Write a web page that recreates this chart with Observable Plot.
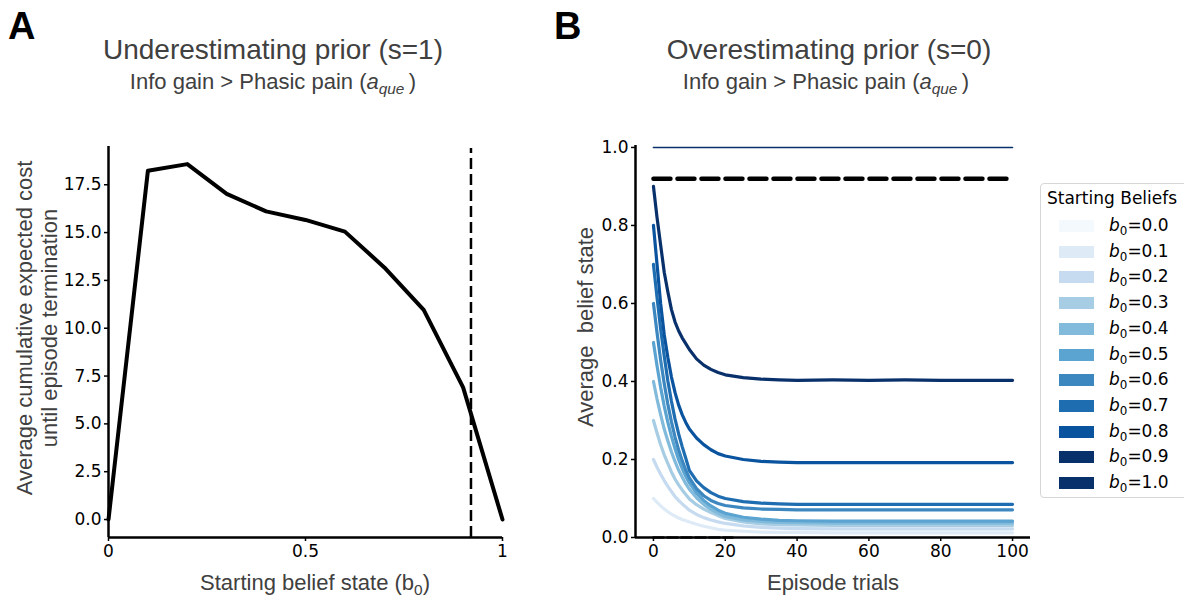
<!DOCTYPE html>
<html>
<head>
<meta charset="utf-8">
<script src="https://cdn.jsdelivr.net/npm/d3@7"></script>
<script src="https://cdn.jsdelivr.net/npm/@observablehq/plot@0.6"></script>
<style>
  html, body { margin: 0; padding: 0; background: #fff; }
  #fig { position: relative; width: 1184px; height: 598px; overflow: hidden; background: #fff; }
  .abs { position: absolute; white-space: nowrap; }
  .panel { font-family: "Liberation Sans", Arial, sans-serif; font-weight: bold; font-size: 38px; color: #000; }
  .ttl { font-family: "Liberation Sans", Arial, sans-serif; color: #404040; transform: translate(-50%, -50%); }
  .axt { font-family: "Liberation Sans", Arial, sans-serif; color: #404040; font-size: 22px; text-align: center; }
  .rot { transform: translate(-50%, -50%) rotate(-90deg); line-height: 1.12; }
  .hc { transform: translate(-50%, -50%); }
  .leg { font-family: "DejaVu Sans", sans-serif; font-size: 17px; color: #000; }
  sub.s { font-size: 0.7em; vertical-align: -0.35em; line-height: 0; }
</style>
</head>
<body>
<div id="fig"></div>
<script>
// ---------------- Panel A data ----------------
const startBeliefA = [0, 0.1, 0.2, 0.3, 0.4, 0.5, 0.6, 0.7, 0.8, 0.9, 1.0];
const costA = [0, 18.23, 18.58, 17.02, 16.11, 15.66, 15.05, 13.18, 10.96, 6.91, 0];
const thresholdA = [0.92];
const yTicksA = [0, 2.5, 5, 7.5, 10, 12.5, 15, 17.5];
const xTicksA = [0, 0.5, 1];
const xTickLabelsA = ["0", "0.5", "1"];

// ---------------- Panel B data ----------------
const trialsB = [0, 1, 2, 3, 4, 5, 6, 7, 8, 9, 10, 12, 14, 16, 18, 20, 25, 30, 35, 40, 50, 60, 70, 80, 90, 100];
const belief00 = [0,0,0,0,0,0,0,0,0,0,0,0,0,0,0,0,0,0,0,0,0,0,0,0,0,0];
const belief01 = [.100,.090,.081,.073,.066,.060,.055,.050,.046,.043,.040,.034,.029,.025,.021,.019,.016,.014,.013,.013,.012,.012,.012,.012,.012,.012];
const belief02 = [.200,.180,.162,.146,.131,.118,.105,.095,.086,.078,.070,.059,.051,.045,.040,.036,.030,.026,.024,.023,.022,.022,.022,.022,.022,.022];
const belief03 = [.300,.268,.238,.212,.190,.168,.150,.135,.122,.110,.099,.084,.073,.064,.056,.049,.040,.035,.033,.032,.031,.031,.031,.031,.031,.031];
const belief04 = [.400,.355,.315,.278,.248,.220,.195,.173,.155,.138,.124,.102,.085,.072,.062,.054,.045,.041,.039,.038,.037,.037,.037,.037,.037,.037];
const belief05 = [.500,.440,.385,.337,.296,.260,.228,.200,.177,.157,.140,.114,.095,.081,.070,.062,.052,.047,.044,.043,.042,.042,.042,.042,.042,.042];
const belief06 = [.600,.525,.455,.395,.342,.297,.258,.225,.197,.173,.153,.125,.107,.095,.087,.082,.076,.073,.072,.071,.071,.071,.071,.071,.071,.071];
const belief07 = [.700,.615,.535,.465,.402,.350,.304,.266,.233,.203,.172,.145,.128,.115,.106,.100,.092,.088,.086,.085,.085,.085,.085,.085,.085,.085];
const belief08 = [.800,.700,.600,.520,.462,.412,.372,.340,.315,.295,.278,.255,.238,.225,.215,.209,.200,.195,.193,.192,.192,.192,.192,.192,.192,.192];
const belief09 = [.900,.820,.750,.680,.630,.585,.553,.530,.512,.497,.482,.458,.442,.431,.423,.417,.410,.406,.404,.403,.404,.403,.404,.403,.403,.403];
const belief10 = [1,1,1,1,1,1,1,1,1,1,1,1,1,1,1,1,1,1,1,1,1,1,1,1,1,1];
const seriesB = [belief00, belief01, belief02, belief03, belief04, belief05, belief06, belief07, belief08, belief09, belief10];
const beliefLabels = ["0.0", "0.1", "0.2", "0.3", "0.4", "0.5", "0.6", "0.7", "0.8", "0.9", "1.0"];
const beliefColors = ["#f4f9fe", "#deebf7", "#c6dbef", "#a6cde3", "#81badb", "#5ba3d0", "#3c87c0", "#1f6db1", "#0a539e", "#08306b", "#08306b"];
const thresholdB = [0.92];
const thresholdBX = [0, 100];
const zeroRefX = [0, 22];
const yTicksB = [0, 0.2, 0.4, 0.6, 0.8, 1.0];
const xTicksB = [0, 20, 40, 60, 80, 100];

const fig = document.getElementById("fig");
function addDiv(cls, html, left, top, extraStyle) {
  const d = document.createElement("div");
  d.className = "abs " + cls;
  d.innerHTML = html;
  d.style.left = left + "px";
  d.style.top = top + "px";
  if (extraStyle) Object.assign(d.style, extraStyle);
  fig.appendChild(d);
  return d;
}

const svgStyle = { fontFamily: "DejaVu Sans, sans-serif", fontSize: "17px", color: "black", background: "transparent", overflow: "visible" };

// ---------------- Panel A ----------------
const rowsA = startBeliefA.map((b, i) => ({ b, cost: costA[i] }));
const yMinA = -0.94;
const plotA = Plot.plot({
  width: 560, height: 598,
  marginLeft: 108, marginRight: 58, marginTop: 146, marginBottom: 61,
  style: svgStyle,
  x: { domain: [0, 1] },
  y: { domain: [yMinA, 19.5] },
  marks: [
    Plot.line(rowsA, { x: "b", y: "cost", stroke: "black", strokeWidth: 4, strokeLinejoin: "round" }),
    Plot.ruleX(thresholdA, { stroke: "black", strokeWidth: 2.5, strokeDasharray: "11,5", y1: yMinA, y2: 19.4 }),
    Plot.axisY({ ticks: yTicksA, tickFormat: d => d.toFixed(1), tickSize: 4, tickPadding: 3, fontSize: 17, strokeWidth: 1.5, label: null }),
    Plot.axisX({ ticks: xTicksA, tickFormat: d => xTickLabelsA[xTicksA.indexOf(d)], tickSize: 4, tickPadding: 3, fontSize: 17, strokeWidth: 1.5, label: null }),
    Plot.ruleX([0], { stroke: "black", strokeWidth: 2.5 }),
    Plot.ruleY([yMinA], { stroke: "black", strokeWidth: 2.5 })
  ]
});
plotA.style.position = "absolute";
plotA.style.left = "0px";
plotA.style.top = "0px";
fig.appendChild(plotA);

// ---------------- Panel B ----------------
const marksB = [];
seriesB.forEach((vals, k) => {
  const rows = trialsB.map((t, i) => ({ trial: t, value: vals[i] }));
  marksB.push(Plot.line(rows, {
    x: "trial", y: "value", stroke: beliefColors[k],
    strokeWidth: beliefLabels[k] === "1.0" ? 1.6 : 3.2, strokeLinejoin: "round"
  }));
});
marksB.push(Plot.line(thresholdBX.map(t => ({ trial: t, value: thresholdB[0] })), { x: "trial", y: "value", stroke: "black", strokeWidth: 4.5, strokeDasharray: "17,7" }));
marksB.push(Plot.line(zeroRefX.map(t => ({ trial: t, value: 0 })), { x: "trial", y: "value", stroke: "#555", strokeWidth: 3, strokeDasharray: "10,4" }));
marksB.push(Plot.axisY({ ticks: yTicksB, tickFormat: d => d.toFixed(1), tickSize: 4, tickPadding: 3, fontSize: 17, strokeWidth: 1.5, label: null }));
marksB.push(Plot.axisX({ ticks: xTicksB, tickFormat: d => String(d), tickSize: 4, tickPadding: 3, fontSize: 17, strokeWidth: 1.5, label: null }));
marksB.push(Plot.ruleX([-5], { stroke: "black", strokeWidth: 2.5 }));
marksB.push(Plot.ruleY([0], { stroke: "black", strokeWidth: 2.5 }));

const plotB = Plot.plot({
  width: 624, height: 598,
  marginLeft: 75, marginRight: 154, marginTop: 145, marginBottom: 61,
  style: svgStyle,
  x: { domain: [-5, 105] },
  y: { domain: [0, 1.005] },
  marks: marksB
});
plotB.style.position = "absolute";
plotB.style.left = "560px";
plotB.style.top = "0px";
fig.appendChild(plotB);

// ---------------- Text ----------------
addDiv("panel", "A", 8, 5);
addDiv("panel", "B", 554, 5);
addDiv("ttl", "Underestimating prior (s=1)", 273, 50, { fontSize: "28px" });
addDiv("ttl", "Info gain &gt; Phasic pain (<i>a</i><sub class='s'><i>que</i></sub>&thinsp;)", 273, 82, { fontSize: "22px" });
addDiv("ttl", "Overestimating prior (s=0)", 829, 50, { fontSize: "28px" });
addDiv("ttl", "Info gain &gt; Phasic pain (<i>a</i><sub class='s'><i>que</i></sub>&thinsp;)", 826, 82, { fontSize: "22px" });

addDiv("axt hc", "Starting belief state (b<sub class='s'>0</sub>)", 315, 583);
addDiv("axt hc", "Episode trials", 833, 583);
addDiv("axt rot", "Average cumulative expected cost<br>until episode termination", 38, 328);
addDiv("axt rot", "Average&nbsp; belief state", 586, 327);

// ---------------- Legend ----------------
const leg = addDiv("leg", "", 1040, 183, { width: "170px", height: "313px", border: "1px solid #d6d6d6", borderRadius: "4px", background: "#fff" });
const lt = document.createElement("div");
lt.className = "abs";
lt.textContent = "Starting Beliefs";
lt.style.left = "6px"; lt.style.top = "4px";
leg.appendChild(lt);
beliefLabels.forEach((lab, k) => {
  const cy = 42 + k * 25.7;
  const sw = document.createElement("div");
  sw.className = "abs";
  Object.assign(sw.style, { left: "18px", top: (cy - 6) + "px", width: "35px", height: "12px", background: beliefColors[k] });
  leg.appendChild(sw);
  const tx = document.createElement("div");
  tx.className = "abs";
  tx.innerHTML = "<i>b</i><sub class='s'>0</sub>=" + lab;
  Object.assign(tx.style, { left: "68px", top: (cy - 11) + "px" });
  leg.appendChild(tx);
});
</script>
</body>
</html>
